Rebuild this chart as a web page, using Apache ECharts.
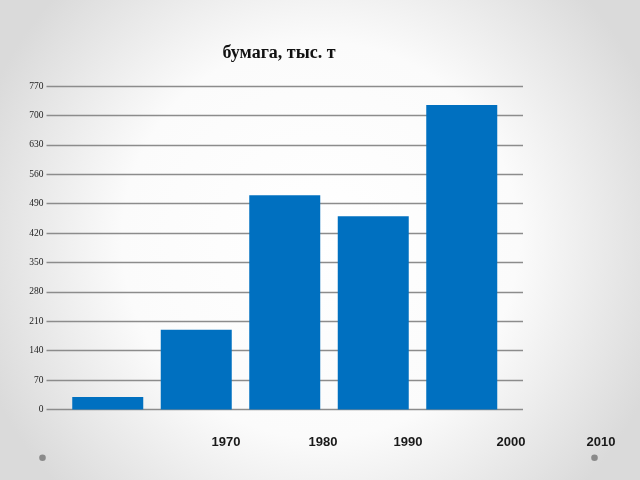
<!DOCTYPE html>
<html>
<head>
<meta charset="utf-8">
<script src="https://cdn.jsdelivr.net/npm/echarts@6/dist/echarts.min.js"></script>
<style>html,body{margin:0;padding:0;}#c{width:640px;height:480px;}</style>
</head>
<body>
<div id="c"></div>
<script>
const titleText = 'бумага, тыс. т';
const years = ['1970', '1980', '1990', '2000', '2010'];
const values = [30, 190, 510, 460, 725];
const yMin = 0, yMax = 770, yStep = 70;

// positions of the (offset) year captions as seen in the original slide
const yearLabelX = [226, 323, 408, 511, 601];

const chart = echarts.init(document.getElementById('c'), null, {renderer: 'canvas'});

const g = [];
years.forEach((y, i) => {
  g.push({
    type: 'text', x: yearLabelX[i], y: 442,
    style: {text: y, fill: '#1a1a1a', font: 'bold 13px "Liberation Sans", Arial, sans-serif',
            textAlign: 'center', textVerticalAlign: 'middle'}
  });
});
g.push({type: 'circle', shape: {cx: 42.5, cy: 457.7, r: 3.3}, style: {fill: '#8a8a8a'}});
g.push({type: 'circle', shape: {cx: 594.5, cy: 457.7, r: 3.3}, style: {fill: '#8a8a8a'}});

chart.setOption({
  animation: false,
  backgroundColor: {
    type: 'radial', x: 0.5, y: 0.5, r: 0.75,
    colorStops: [
      {offset: 0, color: '#ffffff'},
      {offset: 0.55, color: '#fbfbfb'},
      {offset: 1, color: '#dadada'}
    ]
  },
  title: {
    text: titleText, left: 274, top: 39, textAlign: 'center',
    textStyle: {fontFamily: '"Liberation Serif", "DejaVu Serif", serif', fontWeight: 'bold', fontSize: 18, color: '#111'}
  },
  grid: [
    {left: 46.5, right: 117, top: 86, bottom: 70.5},
    {left: 63.5, right: 134, top: 86, bottom: 70.5}
  ],
  xAxis: [
    {gridIndex: 0, type: 'value', min: 0, max: 1, show: false},
    {gridIndex: 1, type: 'category', data: years, show: false}
  ],
  yAxis: [
    {
      gridIndex: 0, type: 'value', min: yMin, max: yMax, interval: yStep,
      axisLine: {show: false}, axisTick: {show: false},
      axisLabel: {margin: 3, color: '#222', fontFamily: '"Liberation Serif", serif', fontSize: 9.5},
      splitLine: {show: true, lineStyle: {color: '#8c8c8c', width: 1.3}}
    },
    {gridIndex: 1, type: 'value', min: yMin, max: yMax, interval: yStep, show: false, splitLine: {show: false}}
  ],
  series: [{
    type: 'bar', xAxisIndex: 1, yAxisIndex: 1, data: values,
    barWidth: 71, itemStyle: {color: '#0070c0'}, z: 3
  }],
  graphic: g
});
</script>
</body>
</html>
